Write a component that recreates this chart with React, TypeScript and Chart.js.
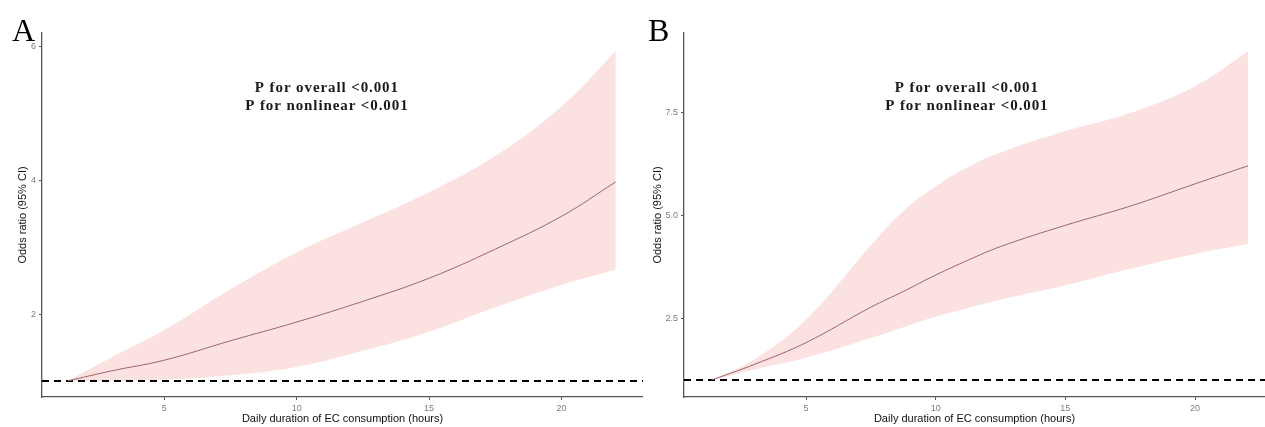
import { useEffect, useRef } from "react";
import { Chart, registerables } from "chart.js";

Chart.register(...registerables);

// ---------- Data ----------
const hoursA = [1.35, 3, 5, 7.5, 10, 12.5, 15, 17.5, 20, 22.05];
const orA = [1.0, 1.15, 1.31, 1.6, 1.88, 2.19, 2.535, 2.97, 3.46, 3.975];
const upperA = [1.0, 1.35, 1.76, 2.37, 2.92, 3.37, 3.82, 4.36, 5.1, 5.93];
const lowerA = [1.0, 1.0, 1.02, 1.085, 1.21, 1.45, 1.735, 2.1, 2.435, 2.66];

const hoursB = [1.35, 3, 5, 7.5, 8.75, 10, 11.25, 12.5, 15, 17.5, 20, 22.05];
const orB = [1.0, 1.38, 1.91, 2.77, 3.15, 3.55, 3.91, 4.24, 4.755, 5.22, 5.76, 6.2];
const upperB = [1.0, 1.5, 2.47, 4.27, 5.1, 5.7, 6.17, 6.52, 7.04, 7.48, 8.13, 8.97];
const lowerB = [1.0, 1.26, 1.545, 2.02, 2.28, 2.54, 2.75, 2.95, 3.3, 3.7, 4.06, 4.3];

const xTicks = [5, 10, 15, 20];
const yTicksA = [2, 4, 6];
const yTicksB = [2.5, 5, 7.5];
const refLineY = 1;

const xTitle = "Daily duration of EC consumption (hours)";
const yTitle = "Odds ratio (95% CI)";
const annotationLines = ["P for overall <0.001", "P for nonlinear <0.001"];
const panelLabels = ["A", "B"];

// ---------- Styles ----------
const SANS = "'Liberation Sans', Arial, sans-serif";
const SERIF = "'Liberation Serif', 'Times New Roman', serif";
const BAND = "#fce1e1";
const LINE = "#9c6668";
const AXIS = "#555555";
const TICK = "#7d7d7d";

type Panel = {
  x: number[];
  or: number[];
  upper: number[];
  lower: number[];
  xMin: number;
  xMax: number;
  yMin: number;
  yMax: number;
  yTicks: number[];
  yFmt: (v: number) => string;
  yTitlePad: number;
  label: string;
  labelX: number;
  annX: number;
  annY: number[];
};

function makeTextPlugin(p: Panel) {
  return {
    id: "panelText",
    afterDraw(chart: any) {
      const ctx = chart.ctx as CanvasRenderingContext2D;
      const xs = chart.scales.x;
      const ys = chart.scales.y;
      ctx.save();
      ctx.fillStyle = "#000";
      ctx.font = `32px ${SERIF}`;
      ctx.textAlign = "left";
      ctx.textBaseline = "alphabetic";
      ctx.fillText(p.label, p.labelX, 40.5);
      ctx.font = `bold 15px ${SERIF}`;
      (ctx as any).letterSpacing = "0.9px";
      ctx.fillStyle = "#1a1a1a";
      ctx.textAlign = "center";
      ctx.textBaseline = "middle";
      annotationLines.forEach((t, i) => {
        ctx.fillText(t, xs.getPixelForValue(p.annX), ys.getPixelForValue(p.annY[i]));
      });
      ctx.restore();
    },
  };
}

function buildConfig(p: Panel): any {
  const pts = (ys: number[]) => p.x.map((x, i) => ({ x, y: ys[i] }));
  const smooth = { tension: 0.4, cubicInterpolationMode: "default" };
  return {
    type: "line",
    data: {
      datasets: [
        {
          data: pts(p.upper),
          borderWidth: 0,
          borderColor: "rgba(0,0,0,0)",
          backgroundColor: BAND,
          pointRadius: 0,
          fill: "+1",
          ...smooth,
        },
        {
          data: pts(p.lower),
          borderWidth: 0,
          borderColor: "rgba(0,0,0,0)",
          pointRadius: 0,
          fill: false,
          ...smooth,
        },
        {
          data: pts(p.or),
          borderWidth: 1,
          borderColor: LINE,
          pointRadius: 0,
          fill: false,
          ...smooth,
        },
        {
          data: [
            { x: p.xMin, y: refLineY },
            { x: p.xMax, y: refLineY },
          ],
          borderWidth: 2,
          borderColor: "#000",
          borderDash: [7, 5],
          pointRadius: 0,
          fill: false,
        },
      ],
    },
    options: {
      responsive: false,
      animation: false,
      events: [],
      layout: { padding: { top: 33, left: 0, right: 0, bottom: 0 } },
      plugins: {
        legend: { display: false },
        tooltip: { enabled: false },
        filler: { drawTime: "beforeDatasetsDraw" },
      },
      scales: {
        x: {
          type: "linear",
          min: p.xMin,
          max: p.xMax,
          afterBuildTicks: (s: any) => {
            s.ticks = xTicks.map((v) => ({ value: v }));
          },
          afterFit: (s: any) => {
            s.height = 30;
          },
          grid: { drawOnChartArea: false, drawTicks: true, tickLength: 3, color: AXIS },
          border: { display: true, color: AXIS, width: 1.3 },
          ticks: {
            color: TICK,
            font: { size: 9, family: SANS },
            padding: 3,
            maxRotation: 0,
            autoSkip: false,
            callback: (v: number) => String(v),
          },
          title: {
            display: true,
            text: xTitle,
            color: "#111",
            font: { size: 11, family: SANS },
            padding: { top: 0, bottom: 1 },
          },
        },
        y: {
          type: "linear",
          min: p.yMin,
          max: p.yMax,
          afterBuildTicks: (s: any) => {
            s.ticks = p.yTicks.map((v) => ({ value: v }));
          },
          afterFit: (s: any) => {
            s.width = 42;
          },
          grid: { drawOnChartArea: false, drawTicks: true, tickLength: 3, color: AXIS },
          border: { display: true, color: AXIS, width: 1.3 },
          ticks: {
            color: TICK,
            font: { size: 9, family: SANS },
            padding: 3,
            autoSkip: false,
            callback: (v: number) => p.yFmt(v),
          },
          title: {
            display: true,
            text: yTitle,
            color: "#111",
            font: { size: 11, family: SANS },
            padding: { top: p.yTitlePad, bottom: 0 },
          },
        },
      },
    },
    plugins: [makeTextPlugin(p)],
  };
}

const panelA: Panel = {
  x: hoursA,
  or: orA,
  upper: upperA,
  lower: lowerA,
  xMin: 0.38,
  xMax: 23.08,
  yMin: 0.76,
  yMax: 6.2,
  yTicks: yTicksA,
  yFmt: (v) => String(v),
  yTitlePad: 16,
  label: panelLabels[0],
  labelX: 12,
  annX: 11.14,
  annY: [5.37, 5.11],
};

const panelB: Panel = {
  x: hoursB,
  or: orB,
  upper: upperB,
  lower: lowerB,
  xMin: 0.29,
  xMax: 22.7,
  yMin: 0.59,
  yMax: 9.42,
  yTicks: yTicksB,
  yFmt: (v) => v.toFixed(1),
  yTitlePad: 9.5,
  label: panelLabels[1],
  labelX: 6,
  annX: 11.2,
  annY: [8.075, 7.65],
};

export default function App() {
  const refA = useRef<HTMLCanvasElement | null>(null);
  const refB = useRef<HTMLCanvasElement | null>(null);

  useEffect(() => {
    const charts: Chart[] = [];
    if (refA.current) charts.push(new Chart(refA.current, buildConfig(panelA)));
    if (refB.current) charts.push(new Chart(refB.current, buildConfig(panelB)));
    return () => charts.forEach((c) => c.destroy());
  }, []);

  return (
    <div
      style={{
        position: "fixed",
        left: 0,
        top: 0,
        width: 1265,
        height: 427,
        background: "#fff",
        overflow: "hidden",
      }}
    >
      <canvas
        ref={refA}
        width={643}
        height={427}
        style={{ position: "absolute", left: 0, top: 0, width: 643, height: 427 }}
      />
      <canvas
        ref={refB}
        width={623}
        height={427}
        style={{ position: "absolute", left: 642, top: 0, width: 623, height: 427 }}
      />
    </div>
  );
}
